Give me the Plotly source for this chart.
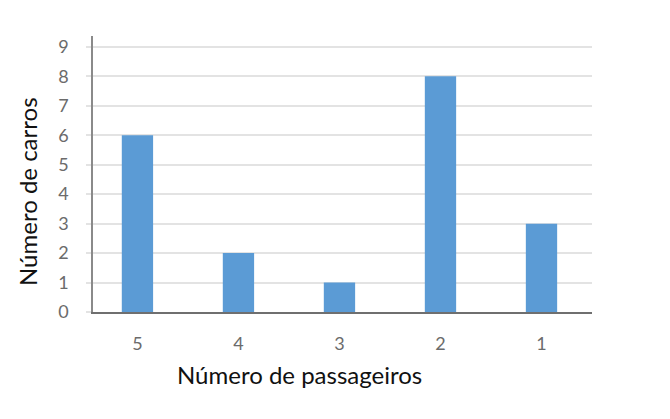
import plotly.graph_objects as go

categories = ["5", "4", "3", "2", "1"]
values = [6, 2, 1, 8, 3]
y_ticks = list(range(0, 10))

OFF = 8  # page body margin
W, H = 670 - 2 * OFF, 419 - 2 * OFF
L, R, T, B = 93 - OFF, 592 - OFF, 36 - OFF, 312 - OFF

fig = go.Figure()
fig.add_trace(go.Bar(
    x=list(range(len(categories))), y=values,
    marker=dict(color="#5B9BD5", line=dict(width=0)),
    width=0.31,
))

fig.update_layout(
    width=W, height=H,
    margin=dict(l=L, r=W - R, t=T, b=H - B, pad=0),
    paper_bgcolor="white", plot_bgcolor="white",
    showlegend=False,
    font=dict(family="Lato, Open Sans, sans-serif"),
    xaxis=dict(
        range=[-0.44, 4.5],
        tickmode="array",
        tickvals=list(range(len(categories))),
        ticktext=categories,
        showgrid=False, zeroline=False,
        showline=True, linecolor="#6f6f6f", linewidth=2,
        ticks="", ticklabelstandoff=14,
        tickfont=dict(size=18, color="#6b6b6b"),
    ),
    yaxis=dict(
        range=[0, 9.37],
        tickmode="array", tickvals=y_ticks,
        showgrid=True, gridcolor="#e3e3e3", gridwidth=1.5,
        zeroline=False,
        showline=True, linecolor="#8a8a8a", linewidth=1.5,
        ticks="outside", ticklen=5, tickcolor="#e3e3e3", tickwidth=1.5,
        ticklabelstandoff=14,
        tickfont=dict(size=18, color="#6b6b6b"),
    ),
    annotations=[
        dict(text="Número de passageiros", xref="paper", yref="paper",
             x=(299 - 93) / (592 - 93), y=-(374 - 312) / (312 - 36),
             xanchor="center", yanchor="middle", showarrow=False,
             font=dict(size=24, color="#111111")),
        dict(text="Número de carros", xref="paper", yref="paper",
             x=-(93 - 27) / (592 - 93), y=(312 - 192) / (312 - 36),
             xanchor="center", yanchor="middle", showarrow=False,
             textangle=-90,
             font=dict(size=24, color="#111111")),
    ],
)

fig.write_html("out.html")
